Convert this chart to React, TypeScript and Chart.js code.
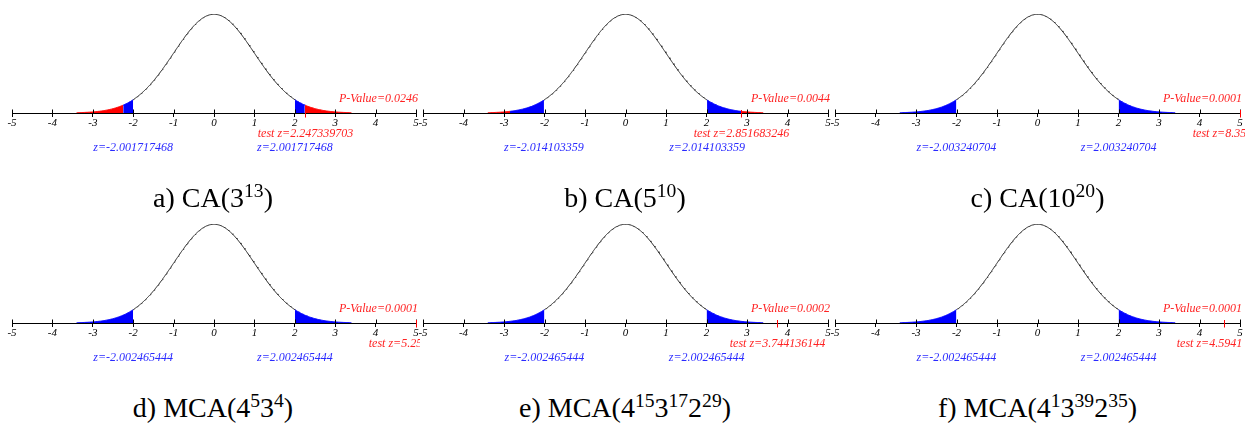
import React, { useEffect, useRef } from 'react';
import { Chart, registerables } from 'chart.js';

Chart.register(...registerables);

// ---------- data ----------
const PANEL_LETTERS = ['a)', 'b)', 'c)', 'd)', 'e)', 'f)'];
const PANEL_NAMES = ['CA', 'CA', 'CA', 'MCA', 'MCA', 'MCA'];
const PANEL_FACTORS: string[][][] = [
  [['3', '13']],
  [['5', '10']],
  [['10', '20']],
  [['4', '5'], ['3', '4']],
  [['4', '15'], ['3', '17'], ['2', '29']],
  [['4', '1'], ['3', '39'], ['2', '35']],
];
const CRITICAL_Z_LABELS = ['2.001717468', '2.014103359', '2.003240704', '2.002465444', '2.002465444', '2.002465444'];
const CRITICAL_Z = [2.001717468, 2.014103359, 2.003240704, 2.002465444, 2.002465444, 2.002465444];
const TEST_Z = [2.247339703, 2.851683246, 8.35, 5.25, 3.744136144, 4.5941];
const TEST_Z_LABELS = ['2.247339703', '2.851683246', '8.35', '5.25', '3.744136144', '4.5941'];
const TEST_Z_DECIMALS = [9, 9, 9, 9, 9, 9];
const P_VALUES = ['0.0246', '0.0044', '0.0001', '0.0001', '0.0002', '0.0001'];
const X_TICKS = [-5, -4, -3, -2, -1, 0, 1, 2, 3, 4, 5];
const X_MIN = -5;
const X_MAX = 5;
const TAIL_LIMIT = 3.4;

// ---------- layout / style ----------
const COL_LEFT = [0, 411, 823];
const COL_WIDTH = [420, 420, 422];
const PAD_RIGHT = [4, 3, 5];
const ROW_TOP = [0, 210];
const CANVAS_H = 165;
const RED = '#ff0000';
const BLUE = '#0000ff';
const RED_TEXT = '#ff2222';
const BLUE_TEXT = '#2a2aff';
const SERIF = '"Liberation Serif", "Times New Roman", serif';

const pdf = (z: number) => Math.exp(-z * z / 2) / Math.sqrt(2 * Math.PI);
const curve = (a: number, b: number) => {
  const pts: { x: number; y: number }[] = [];
  const n = Math.max(2, Math.ceil((b - a) / 0.02));
  for (let i = 0; i <= n; i++) {
    const z = a + ((b - a) * i) / n;
    pts.push({ x: z, y: pdf(z) });
  }
  return pts;
};

function Panel({ index }: { index: number }) {
  const ref = useRef<HTMLCanvasElement>(null);
  const col = index % 3;
  const row = Math.floor(index / 3);
  useEffect(() => {
    const zc = CRITICAL_Z[index];
    const tz = TEST_Z[index];
    const seg = (a: number, b: number, color: string) => [
      {
        data: curve(a, b), borderColor: color, backgroundColor: color, borderWidth: 1,
        fill: 'origin', pointRadius: 0, tension: 0, order: 1,
      },
      {
        data: curve(-b, -a), borderColor: color, backgroundColor: color, borderWidth: 1,
        fill: 'origin', pointRadius: 0, tension: 0, order: 1,
      },
    ];
    const tails: any[] = [];
    if (tz < TAIL_LIMIT) {
      tails.push(...seg(zc, tz, BLUE), ...seg(tz, TAIL_LIMIT, RED));
    } else {
      tails.push(...seg(zc, TAIL_LIMIT, BLUE));
    }
    const datasets: any[] = [
      {
        data: curve(-zc, zc), borderColor: '#2b2b2b', borderWidth: 1, fill: false,
        pointRadius: 0, tension: 0, order: 2,
      },
      ...tails,
    ];

    const annot = {
      id: 'annot',
      afterDraw(chart: any) {
        const ctx = chart.ctx as CanvasRenderingContext2D;
        const xs = chart.scales.x;
        const ys = chart.scales.y;
        const y0 = Math.round(ys.getPixelForValue(0)) + 0.5;
        ctx.save();
        ctx.lineWidth = 1;
        ctx.strokeStyle = '#000';
        X_TICKS.forEach((v) => {
          const x = Math.round(xs.getPixelForValue(v)) + 0.5;
          ctx.beginPath();
          ctx.moveTo(x, y0 - 4);
          ctx.lineTo(x, y0);
          ctx.stroke();
        });
        const tx = Math.round(xs.getPixelForValue(Math.min(X_MAX, tz))) + 0.5;
        ctx.strokeStyle = RED;
        ctx.beginPath();
        ctx.moveTo(tx, y0 - 3.5);
        ctx.lineTo(tx, y0 + 4);
        ctx.stroke();

        ctx.font = `italic 12px ${SERIF}`;
        ctx.textBaseline = 'alphabetic';
        ctx.fillStyle = RED_TEXT;
        ctx.textAlign = 'right';
        ctx.fillText('P-Value=' + P_VALUES[index], xs.getPixelForValue(X_MAX) + 2, y0 - 12);
        const template = 'test z=0.' + '0'.repeat(TEST_Z_DECIMALS[index]);
        const w = ctx.measureText(template).width;
        ctx.textAlign = 'left';
        ctx.fillText('test z=' + TEST_Z_LABELS[index], tx - w / 2, y0 + 23);

        ctx.fillStyle = BLUE_TEXT;
        ctx.textAlign = 'center';
        ctx.fillText('z=-' + CRITICAL_Z_LABELS[index], xs.getPixelForValue(-zc), y0 + 37);
        ctx.fillText('z=' + CRITICAL_Z_LABELS[index], xs.getPixelForValue(zc), y0 + 37);
        ctx.restore();
      },
    };

    const chart = new Chart(ref.current!, {
      type: 'line',
      data: { datasets },
      options: {
        animation: false,
        responsive: false,
        events: [],
        layout: { padding: { left: 12, right: PAD_RIGHT[col], top: 14, bottom: 32 } },
        plugins: { legend: { display: false }, tooltip: { enabled: false } },
        scales: {
          x: {
            type: 'linear',
            min: X_MIN,
            max: X_MAX,
            afterBuildTicks: (s: any) => {
              s.ticks = X_TICKS.map((v) => ({ value: v }));
            },
            afterFit: (s: any) => {
              s.height = 20;
            },
            border: { display: true, color: '#000', width: 1 },
            grid: { display: true, drawOnChartArea: false, drawTicks: true, tickLength: 4, color: '#000', lineWidth: 1 },
            ticks: {
              font: { family: SERIF, style: 'italic', size: 11 },
              color: '#000',
              padding: 0,
              maxRotation: 0,
              minRotation: 0,
              autoSkip: false,
              callback: (v: any) => String(v),
            },
          },
          y: { display: false, min: 0, max: 0.4 },
        },
      } as any,
      plugins: [annot],
    });
    return () => chart.destroy();
  }, [index, col]);
  return (
    <canvas
      ref={ref}
      width={COL_WIDTH[col]}
      height={CANVAS_H}
      style={{
        position: 'absolute',
        left: COL_LEFT[col],
        top: ROW_TOP[row],
        width: COL_WIDTH[col],
        height: CANVAS_H,
      }}
    />
  );
}

const COL_CENTER = [213, 625, 1037.5];
const CAPTION_TOP = [182, 392];

function Caption({ index }: { index: number }) {
  const col = index % 3;
  const row = Math.floor(index / 3);
  return (
    <div
      style={{
        position: 'absolute',
        left: COL_CENTER[col] - 160,
        width: 320,
        top: CAPTION_TOP[row],
        textAlign: 'center',
        fontFamily: SERIF,
        fontSize: 28,
        lineHeight: '32px',
        color: '#000',
        whiteSpace: 'nowrap',
      }}
    >
      {PANEL_LETTERS[index]} {PANEL_NAMES[index]}(
      {PANEL_FACTORS[index].map(([b, e], i) => (
        <span key={i}>
          {b}
          <sup style={{ fontSize: '70%', lineHeight: 0, verticalAlign: 'baseline', position: 'relative', top: '-0.5em' }}>{e}</sup>
        </span>
      ))}
      )
    </div>
  );
}

export default function App() {
  const idx = [0, 1, 2, 3, 4, 5];
  return (
    <div style={{ position: 'fixed', left: 0, top: 0, width: 1251, height: 424, background: '#fff', overflow: 'hidden' }}>
      {idx.map((i) => (
        <Panel key={'p' + i} index={i} />
      ))}
      {idx.map((i) => (
        <Caption key={'c' + i} index={i} />
      ))}
    </div>
  );
}
